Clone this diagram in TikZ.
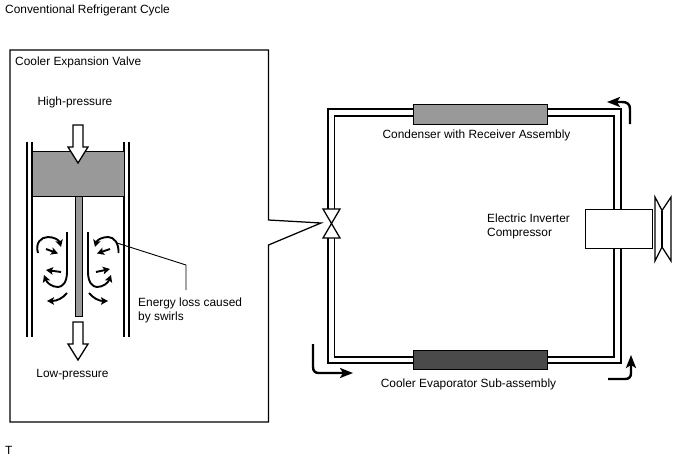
\documentclass[tikz,border=0pt]{standalone}
\usepackage{fontspec}
\setmainfont{Liberation Sans}
\usetikzlibrary{arrows.meta}
\definecolor{lightgrey}{HTML}{999999}
\definecolor{darkgrey}{HTML}{4A4A4A}
\tikzset{
  line/.style={draw=black,line width=1.25pt},
  thinline/.style={draw=black,line width=0.9pt},
  flowarrow/.style={draw=black,line width=2.4pt,-{Stealth[length=13pt,width=10pt,inset=3pt]}},
  swirl/.style={draw=black,line width=1.9pt,-{Stealth[length=7pt,width=7.5pt,inset=1.5pt]}},
  label/.style={font=\fontsize{11.9}{14}\selectfont,inner sep=0pt,text=black},
  unit/.style={draw=black,line width=1.4pt,inner sep=0pt,anchor=north west},
  bigarrow/.style={draw=black,line width=1.3pt,fill=white,line join=miter}
}
\begin{document}
\begin{tikzpicture}[x=1pt,y=-1pt]
\useasboundingbox (0,0) rectangle (688,463);
% texts
\node[label,anchor=west] (title) at (5,10.5) {Conventional Refrigerant Cycle};
\node[label,anchor=west] (valvetitle) at (15,62) {Cooler Expansion Valve};
\node[label] (high) at (75,102.5) {High-pressure};
\node[label] (low) at (72.5,374.5) {Low-pressure};
\node[label,anchor=north west,align=left] (loss) at (138,298) {Energy loss caused\\by swirls};
\node[label,anchor=west] (t) at (5,450.5) {T};
% callout box
\coordinate (calltip) at (321,223);
\draw[line,line join=miter] (268.5,220) -- (268.5,50) -- (10,50) -- (10,422) -- (268.5,422) -- (268.5,245) -- (calltip) -- cycle;
% cylinder
\draw[line] (27,142) -- (27,337) (32,142) -- (32,337) (124,142) -- (124,337) (129,142) -- (129,337);
\node[unit,fill=lightgrey,minimum width=92pt,minimum height=45pt] (piston) at (32,151) {};
\node[unit,fill=lightgrey,minimum width=7pt,minimum height=120pt] (rod) at (75,196) {};
% large arrows
\draw[bigarrow] (73,125) -- (83,125) -- (83,147) -- (88,147) -- (78,163) -- (68,147) -- (73,147) -- cycle;
\draw[bigarrow] (73,322) -- (83,322) -- (83,344) -- (88,344) -- (78,360) -- (68,344) -- (73,344) -- cycle;
% swirls left
\draw[swirl] (67,232) -- (67,272) .. controls (67,283) and (62,287) .. (58,287) .. controls (52,287) and (47,283) .. (44,275);
\draw[swirl] (38,253) .. controls (35,243) and (41,237) .. (48,237) .. controls (54,237) and (59,240) .. (61,247);
\draw[swirl] (46,249) -- (58,253.5);
\draw[swirl] (61,272) -- (46,270);
\draw[swirl] (67,293) .. controls (63,298) and (57,301) .. (47,301);
% swirls right
\draw[swirl] (88,232) -- (88,272) .. controls (88,283) and (93,287) .. (97,287) .. controls (103,287) and (108,283) .. (111,275);
\draw[swirl] (118.5,253) .. controls (119,243) and (114,237) .. (108,237) .. controls (102,237) and (97,240) .. (95,247);
\draw[swirl] (110,249) -- (97,253.5);
\draw[swirl] (96,272) -- (110,269);
\draw[swirl] (89,293) .. controls (93,298) and (99,301) .. (108,301);
% leader
\coordinate (swirlpoint) at (117,243);
\draw[thinline] (swirlpoint) -- (186,265) -- (186,290);
% refrigerant circuit
\node[unit,fill=lightgrey,minimum width=134pt,minimum height=20pt] (condenser) at (413,104) {};
\node[unit,fill=darkgrey,minimum width=134pt,minimum height=19pt] (evaporator) at (413,350) {};
\coordinate (valvetopL) at (328,209);
\coordinate (valvetopR) at (334.5,209);
\coordinate (valvebotL) at (328,238);
\coordinate (valvebotR) at (334.5,238);
\draw[line,line join=miter] (valvetopL) -- (328,109) -- (condenser.west |- 0,109);
\draw[line,line join=miter] (valvetopR) -- (334.5,116) -- (condenser.west |- 0,116);
\draw[line,line join=miter] (valvebotL) -- (328,363) -- (evaporator.west |- 0,363);
\draw[line,line join=miter] (valvebotR) -- (334.5,357) -- (evaporator.west |- 0,357);
\draw[line,line join=miter] (condenser.east |- 0,109) -- (621,109) -- (621,363) -- (evaporator.east |- 0,363);
\draw[line,line join=miter] (condenser.east |- 0,116) -- (614,116) -- (614,357) -- (evaporator.east |- 0,357);
% valve
\draw[line,line join=miter] (323,209) -- (340,209) -- (323,238) -- (340,238) -- cycle;
% compressor
\node[unit,fill=white,minimum width=67pt,minimum height=39pt] (compressor) at (585,209) {};
% pulley
\draw[line,line join=miter] (655,197) -- (662,210.5) -- (671,197) -- (671,261) -- (662,247) -- (655,261) -- cycle;
\draw[line] (662,210.5) -- (662,247);
% labels
\node[label] (condlabel) at (476.5,135.5) {Condenser with Receiver Assembly};
\node[label] (evaplabel) at (468.5,384.5) {Cooler Evaporator Sub-assembly};
\node[label,anchor=west,align=left] (complabel) at (487,226.5) {Electric Inverter\\Compressor};
% flow arrows
\draw[flowarrow] (630,124) -- (630,109) .. controls (630,104) and (627,102) .. (622,102) -- (607,102);
\draw[flowarrow] (608,379) -- (625,379) .. controls (629,379) and (631,377) .. (631,373) -- (631,355);
\draw[flowarrow] (313,344) -- (313,367) .. controls (313,371) and (315,373) .. (319,373) -- (353,373);
\end{tikzpicture}
\end{document}
